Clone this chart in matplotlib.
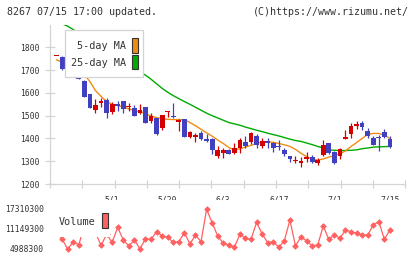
import matplotlib
matplotlib.use("Agg")
import matplotlib.pyplot as plt
from matplotlib.patches import Rectangle
import numpy as np

# daily candles (61 trading days)
opens  = [1762, 1759, 1712, 1716, 1685, 1653, 1595, 1524, 1554, 1570,
          1517, 1551, 1564, 1536, 1532, 1510, 1538, 1477, 1488, 1447,
          1514, 1500, 1474, 1484, 1408, 1408, 1424, 1398, 1397, 1322,
          1338, 1349, 1338, 1360, 1385, 1385, 1410, 1368, 1388, 1378,
          1366, 1349, 1322, 1301, 1294, 1308, 1318, 1294, 1327, 1381,
          1340, 1322, 1397, 1418, 1455, 1470, 1432, 1403, 1407, 1429,
          1397]
highs  = [1764, 1760, 1728, 1720, 1690, 1655, 1597, 1575, 1576, 1577,
          1562, 1566, 1566, 1555, 1546, 1553, 1540, 1510, 1492, 1505,
          1521, 1557, 1486, 1486, 1432, 1423, 1432, 1420, 1400, 1366,
          1360, 1352, 1378, 1400, 1410, 1430, 1420, 1400, 1400, 1385,
          1393, 1356, 1322, 1322, 1319, 1341, 1326, 1315, 1393, 1382,
          1345, 1360, 1437, 1466, 1477, 1478, 1444, 1410, 1413, 1440,
          1410]
lows   = [1760, 1700, 1710, 1680, 1660, 1582, 1532, 1510, 1540, 1488,
          1507, 1520, 1510, 1522, 1498, 1508, 1468, 1466, 1416, 1437,
          1495, 1488, 1433, 1405, 1400, 1385, 1393, 1385, 1331, 1312,
          1316, 1330, 1331, 1337, 1356, 1375, 1360, 1356, 1360, 1341,
          1349, 1322, 1297, 1293, 1274, 1297, 1294, 1283, 1322, 1332,
          1287, 1308, 1397, 1403, 1440, 1437, 1400, 1370, 1345, 1400,
          1356]
closes = [1762, 1703, 1718, 1681, 1662, 1583, 1534, 1546, 1566, 1510,
          1551, 1543, 1530, 1542, 1500, 1527, 1470, 1498, 1418, 1502,
          1520, 1494, 1483, 1407, 1428, 1416, 1398, 1390, 1350, 1349,
          1349, 1331, 1356, 1393, 1366, 1425, 1371, 1388, 1382, 1360,
          1363, 1331, 1309, 1305, 1300, 1319, 1297, 1305, 1371, 1337,
          1294, 1354, 1407, 1454, 1463, 1451, 1410, 1371, 1401, 1407,
          1363]

ma5 = [1745, 1735, 1728, 1715, 1700, 1680, 1650, 1610, 1585, 1562,
       1550, 1545, 1538, 1530, 1522, 1518, 1510, 1498, 1492, 1486,
       1484, 1483, 1483, 1482, 1470, 1456, 1440, 1425, 1410, 1393,
       1378, 1360, 1350, 1355, 1362, 1370, 1378, 1385, 1385, 1383,
       1378, 1372, 1365, 1352, 1335, 1320, 1310, 1305, 1310, 1318,
       1325, 1333, 1345, 1365, 1382, 1400, 1418, 1422, 1422, 1415,
       1400]
ma25 = [1915, 1903, 1893, 1878, 1862, 1846, 1830, 1815, 1800, 1784,
        1768, 1752, 1737, 1721, 1706, 1693, 1678, 1660, 1640, 1620,
        1603, 1588, 1575, 1562, 1550, 1537, 1524, 1511, 1500, 1490,
        1480, 1470, 1464, 1458, 1450, 1443, 1436, 1430, 1423, 1417,
        1411, 1404, 1397, 1391, 1387, 1380, 1373, 1365, 1358, 1350,
        1348, 1347, 1347, 1348, 1350, 1355, 1358, 1362, 1363, 1364,
        1365]

volume = [10000000, 8070000, 4900000, 7240000, 6220000, 12500000, 11000000, 10000000, 6070000, 9500000,
          7050000, 11670000, 7760000, 5910000, 7760000, 5080000, 8070000, 7980000, 10320000, 8990000,
          8590000, 7050000, 7240000, 10010000, 6530000, 9300000, 7240000, 17220000, 13090000, 8990000,
          6740000, 6220000, 5510000, 9520000, 8280000, 7980000, 13210000, 9610000, 6930000, 7240000,
          5510000, 7550000, 13920000, 5910000, 8780000, 7450000, 6000000, 6220000, 12070000, 7980000,
          9300000, 8280000, 10840000, 10320000, 9820000, 9300000, 9300000, 12380000, 13400000, 7980000,
          10840000]

date_pos = [10, 20, 30, 40, 50, 60]
date_labels = ["5/1", "5/20", "6/3", "6/17", "7/1", "7/15"]
price_ticks = [1200, 1300, 1400, 1500, 1600, 1700, 1800]
vol_ticks = [4988300, 11149300, 17310300]

RED = "#d40000"
BLUE = "#4040c0"
ORANGE = "#f08c14"
GREEN = "#00aa00"
VOLC = "#ff6060"
GRID = "#d4d4d4"
TXT = "#333333"
MONO = "DejaVu Sans Mono"

W, H = 420, 259
def fx(x): return x / W
def fy(y): return 1 - y / H

fig = plt.figure(figsize=(4.2, 2.59), dpi=100)
ax = fig.add_axes([fx(50), fy(184), fx(405.3) - fx(50), fy(24.6) - fy(184)])
axv = fig.add_axes([fx(50), fy(258), fx(405.3) - fx(50), fy(200) - fy(258)])

idx = np.arange(len(opens))
o = np.array(opens); c = np.array(closes)
up = c >= o
cols = np.where(up, RED, BLUE)
xlim = (-1.19, 62.77)

# moving averages
ax.plot(idx, ma25, color=GREEN, lw=1.0, zorder=2)
ax.plot(idx, ma5, color=ORANGE, lw=1.0, zorder=2)

# candles
ax.vlines(idx, lows, highs, colors=cols, lw=0.9, zorder=3)
body = np.maximum(np.abs(c - o), 4)
ax.bar(idx, body, bottom=np.minimum(o, c), width=0.85, color=cols, zorder=4)

ax.set_xlim(*xlim)
ax.set_ylim(1200, 1900)
ax.set_yticks(price_ticks)
ax.set_yticklabels([str(t) for t in price_ticks], family=MONO, fontsize=5.8, color=TXT)
ax.set_xticks(date_pos)
ax.set_xticklabels(date_labels, family=MONO, fontsize=5.8, color=TXT)
ax.set_xticks(np.linspace(xlim[0], xlim[1], 12), minor=True)
ax.tick_params(axis="x", which="major", length=0, pad=8)
ax.tick_params(axis="x", which="minor", direction="inout", length=6, color=GRID, width=0.9)
ax.tick_params(axis="y", direction="inout", length=6.5, color=GRID, width=0.9, pad=4.2)
for s in ["top", "right"]:
    ax.spines[s].set_visible(False)
for s in ["left", "bottom"]:
    ax.spines[s].set_color(GRID)
    ax.spines[s].set_linewidth(0.9)

# volume
axv.plot(idx, volume, color=VOLC, lw=0.9, marker="D", ms=2.9, mew=0.5, mec=VOLC, mfc=VOLC)
axv.set_xlim(*xlim)
axv.set_ylim(2215850, 20082750)
axv.set_xticks([])
axv.set_yticks(vol_ticks)
axv.set_yticklabels([str(t) for t in vol_ticks], family=MONO, fontsize=5.8, color=TXT)
axv.tick_params(axis="y", length=0, pad=4.2)
for s in axv.spines.values():
    s.set_visible(False)

# legends drawn by hand
fig.add_artist(Rectangle((fx(65), fy(76.7)), fx(143.3) - fx(65), fy(30) - fy(76.7),
                         transform=fig.transFigure, facecolor="white", edgecolor=GRID, lw=0.9, zorder=5))
fig.text(fx(126), fy(46), "5-day MA", family=MONO, fontsize=7.3, color=TXT, ha="right", va="center", zorder=6)
fig.text(fx(126), fy(63.3), "25-day MA", family=MONO, fontsize=7.3, color=TXT, ha="right", va="center", zorder=6)
fig.add_artist(Rectangle((fx(131.5), fy(52.5)), fx(138.3) - fx(131.5), fy(37.5) - fy(52.5),
                         transform=fig.transFigure, facecolor=ORANGE, edgecolor="#333333", lw=0.8, zorder=6))
fig.add_artist(Rectangle((fx(131.5), fy(69.3)), fx(138.3) - fx(131.5), fy(54.5) - fy(69.3),
                         transform=fig.transFigure, facecolor=GREEN, edgecolor="#333333", lw=0.8, zorder=6))

fig.add_artist(Rectangle((fx(54), fy(236.5)), fx(110) - fx(54), fy(203) - fy(236.5),
                         transform=fig.transFigure, facecolor="white", edgecolor="none", zorder=5))
fig.text(fx(59), fy(222.3), "Volume", family=MONO, fontsize=7.3, color=TXT, ha="left", va="center", zorder=6)
fig.add_artist(Rectangle((fx(101.7), fy(228.3)), fx(107.7) - fx(101.7), fy(212.7) - fy(228.3),
                         transform=fig.transFigure, facecolor=VOLC, edgecolor="#333333", lw=0.8, zorder=6))

fig.text(fx(7), fy(12), "8267 07/15 17:00 updated.", family=MONO, fontsize=7.2, color=TXT, ha="left", va="center")
fig.text(fx(409), fy(12), "(C)https://www.rizumu.net/", family=MONO, fontsize=7.2, color=TXT, ha="right", va="center")

fig.savefig("out.png", dpi=100, facecolor="white")
